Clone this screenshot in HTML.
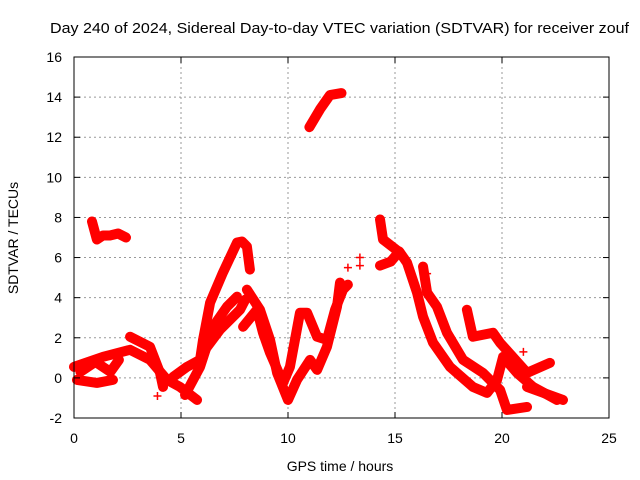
<!DOCTYPE html>
<html><head><meta charset="utf-8"><style>
body{margin:0;background:#fff}
svg{display:block;font-family:"Liberation Sans",sans-serif}
</style></head><body>
<svg id="chart" width="640" height="480">
<rect width="640" height="480" fill="#fff"/>
<g id="grid"></g>
<g id="series"></g>
<rect x="74" y="57" width="535" height="361" fill="none" stroke="#000" stroke-width="1"/>
<g id="ticks"></g>
<text x="50" y="33" textLength="579" lengthAdjust="spacingAndGlyphs" font-size="15">Day 240 of 2024, Sidereal Day-to-day VTEC variation (SDTVAR) for receiver zouf</text>
<text x="340" y="471" text-anchor="middle" font-size="14">GPS time / hours</text>
<text transform="translate(18,238) rotate(-90)" text-anchor="middle" font-size="14">SDTVAR / TECUs</text>
</svg>
<script>
const xTicks=[0,5,10,15,20,25];
const yTicks=[-2,0,2,4,6,8,10,12,14,16];
const traceA=[[0.84,7.8],[1.07,6.9],[1.35,7.1],[1.68,7.1],[2.06,7.2],[2.43,7.0]];
const traceB=[[11.0,12.5],[11.5,13.4],[11.96,14.1],[12.5,14.2]];
const traceC1=[[0.0,0.55],[1.36,1.05],[2.62,1.4],[3.55,0.9],[4.35,-0.1],[4.95,-0.45],[5.75,-1.1]];
const traceC2=[[2.62,2.05],[3.55,1.55],[4.02,0.25],[4.16,-0.45]];
const traceC3=[[0.14,-0.1],[1.07,-0.25],[1.82,-0.1]];
const traceC4=[[0.3,0.3],[1.0,0.8],[1.7,0.3],[2.1,0.9]];
const traceD1=[[4.63,0.05],[5.28,0.55],[5.89,0.9],[6.03,1.9],[6.36,3.75],[6.96,5.25],[7.62,6.75],[7.85,6.8],[8.08,6.55],[8.22,5.4]];
const traceD2=[[5.19,-0.85],[5.89,0.55],[6.5,2.55],[7.15,3.55],[7.62,4.05]];
const traceD3=[[6.12,1.4],[6.82,2.4],[7.76,3.4],[8.0,3.9]];
const traceE1=[[8.08,4.4],[8.69,3.4],[9.16,1.9],[9.49,0.25],[10.0,-1.1],[10.42,-0.1],[11.03,0.9],[11.36,0.4],[11.82,1.55],[12.29,3.55],[12.43,4.75]];
const traceE2=[[7.9,2.55],[8.55,3.4],[8.83,2.25],[9.16,1.25],[9.77,-0.25],[10.09,0.55],[10.56,3.25],[10.89,3.25],[11.36,2.05],[11.82,1.9],[12.2,3.4],[12.57,4.4],[12.8,4.65]];
const traceF0=[[14.3,5.6],[14.8,5.8],[15.2,6.3]];
const traceF1=[[14.3,7.9],[14.44,6.9],[15.23,6.25],[15.56,5.75],[16.03,4.25],[16.31,3.05],[16.78,1.75],[17.57,0.55],[18.64,-0.45],[19.3,-0.75],[19.77,-0.1],[20.05,1.05],[20.7,0.25],[21.45,-0.45],[22.57,-1.1]];
const traceF2=[[16.31,5.55],[16.5,4.25],[16.96,3.55],[17.43,2.25],[18.18,0.9],[19.11,0.25],[19.91,-0.6],[20.23,-1.6],[21.17,-1.45]];
const traceF3=[[18.36,3.4],[18.64,2.05],[19.58,2.25],[19.91,1.75],[21.17,0.25],[22.24,0.75]];
const traceF4=[[21.17,-0.45],[22.85,-1.1]];
const scatterPts=[[12.8,5.5],[13.36,6.0],[13.36,5.6],[21.0,1.3],[3.9,-0.9],[8.2,5.8],[16.5,5.2]];
const traces=[traceA,traceB,traceC1,traceC2,traceC3,traceC4,traceD1,traceD2,traceD3,traceE1,traceE2,traceF0,traceF1,traceF2,traceF3,traceF4];
const NS="http://www.w3.org/2000/svg";
const X0=74,X1=609,Y0=418,Y1=57;
function sx(h){return X0+(h-0)/(25-0)*(X1-X0);}
function sy(v){return Y0-(v+2)/(18)*(Y0-Y1);}
const grid=document.getElementById('grid'),ticks=document.getElementById('ticks'),ser=document.getElementById('series');
function mk(t,a,p){const e=document.createElementNS(NS,t);for(const k in a)e.setAttribute(k,a[k]);p.appendChild(e);return e;}
xTicks.forEach(t=>{const x=sx(t);
 if(t>0&&t<25){const g=mk('line',{x1:x,x2:x,y1:Y1,y2:Y0,stroke:'#999','stroke-dasharray':'2,3'},grid);
 
 }
 mk('line',{x1:x,x2:x,y1:Y0,y2:Y0-6,stroke:'#000'},ticks);mk('line',{x1:x,x2:x,y1:Y1,y2:Y1+6,stroke:'#000'},ticks);
 const l=mk('text',{x:x,y:443,'text-anchor':'middle','font-size':14},ticks);l.textContent=t;
 
 });
yTicks.forEach(t=>{const y=sy(t);
 if(t>-2&&t<16){const g=mk('line',{x1:X0,x2:X1,y1:y,y2:y,stroke:'#999','stroke-dasharray':'2,3'},grid);
 
 }
 mk('line',{x1:X0,x2:X0+6,y1:y,y2:y,stroke:'#000'},ticks);mk('line',{x1:X1,x2:X1-6,y1:y,y2:y,stroke:'#000'},ticks);
 const l=mk('text',{x:62,y:y+5,'text-anchor':'end','font-size':14},ticks);l.textContent=t;
 
 });
traces.forEach(tr=>{
 const p=mk('polyline',{points:tr.map(d=>sx(d[0])+','+sy(d[1])).join(' '),fill:'none',stroke:'#f00','stroke-width':10,'stroke-linejoin':'round','stroke-linecap':'round'},ser);
 
 
});
scatterPts.forEach(d=>{const x=sx(d[0]),y=sy(d[1]);
 const p=mk('path',{d:`M${x-4},${y}H${x+4}M${x},${y-4}V${y+4}`,stroke:'#f00','stroke-width':1.5},ser);
 
 });
</script>
</body></html>
